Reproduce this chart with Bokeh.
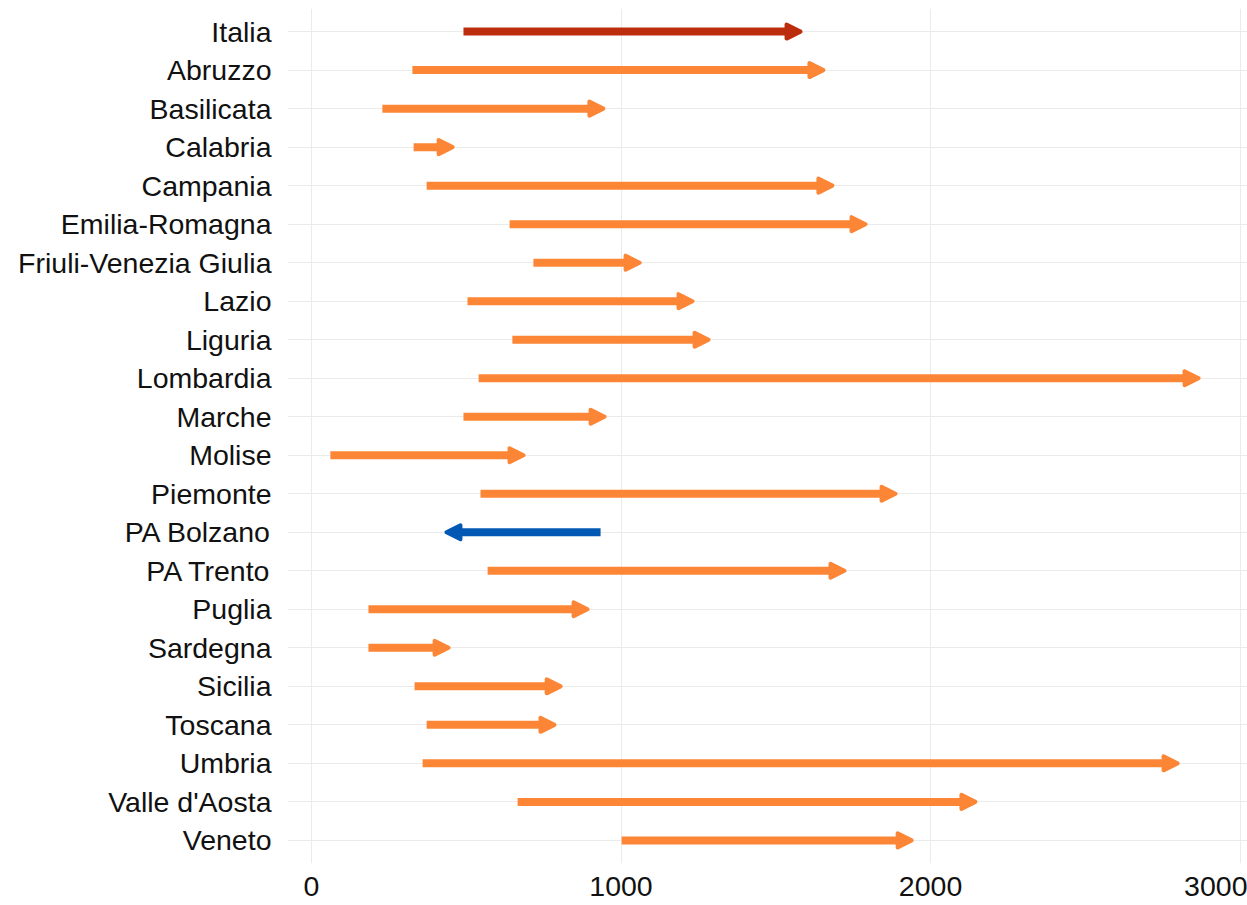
from bokeh.plotting import figure
from bokeh.models import Arrow, NormalHead, Range1d, FixedTicker
from bokeh.embed import file_html
from bokeh.resources import INLINE

regions = ["Italia", "Abruzzo", "Basilicata", "Calabria", "Campania", "Emilia-Romagna",
           "Friuli-Venezia Giulia", "Lazio", "Liguria", "Lombardia", "Marche", "Molise",
           "Piemonte", "PA Bolzano", "PA Trento", "Puglia", "Sardegna", "Sicilia",
           "Toscana", "Umbria", "Valle d'Aosta", "Veneto"]
start_vals = [491, 326, 229, 330, 372, 640, 717, 504, 649, 540, 491, 61,
              546, 934, 569, 184, 184, 333, 372, 359, 666, 1002]
end_vals = [1580, 1654, 943, 456, 1683, 1790, 1060, 1231, 1283, 2866, 947, 685,
            1887, 436, 1722, 892, 443, 805, 785, 2798, 2145, 1939]
x_ticks = [0, 1000, 2000, 3000]

ORANGE = "#FC8636"
RED = "#BB2D0D"
BLUE = "#0358B4"

n = len(regions)
ypos = [n - i for i in range(n)]

p = figure(width=1247, height=903, output_backend="svg", toolbar_location=None,
           x_range=Range1d(-77.5, 3024), y_range=Range1d(0.4, n + 0.6),
           min_border_left=287, min_border_right=0, min_border_top=8, min_border_bottom=40)
p.outline_line_color = None
p.background_fill_color = "white"
p.border_fill_color = "white"

for axis in (p.xaxis[0], p.yaxis[0]):
    axis.axis_line_color = None
    axis.major_tick_line_color = None
    axis.minor_tick_line_color = None
    axis.major_label_text_font = "Liberation Sans"
    axis.major_label_text_font_size = "28.5px"
    axis.major_label_text_color = "#111111"

p.xaxis.ticker = FixedTicker(ticks=x_ticks)
p.xaxis.major_label_standoff = 7
p.yaxis.ticker = FixedTicker(ticks=ypos)
p.yaxis.major_label_overrides = {y: r for y, r in zip(ypos, regions)}
p.yaxis.major_label_standoff = 10

p.xgrid.ticker = FixedTicker(ticks=x_ticks)
p.ygrid.ticker = FixedTicker(ticks=ypos)
p.xgrid.grid_line_color = "#EBEBEB"
p.ygrid.grid_line_color = "#EBEBEB"
p.xgrid.grid_line_width = 1
p.ygrid.grid_line_width = 1

for r, y, s, e in zip(regions, ypos, start_vals, end_vals):
    if r == "Italia":
        c = RED
    elif e < s:
        c = BLUE
    else:
        c = ORANGE
    head = NormalHead(size=14, fill_color=c, line_color=c, line_width=4, line_join="round")
    p.add_layout(Arrow(end=head, x_start=s, y_start=y, x_end=e, y_end=y,
                       line_color=c, line_width=8))

open("out.html", "w").write(file_html(p, INLINE))
